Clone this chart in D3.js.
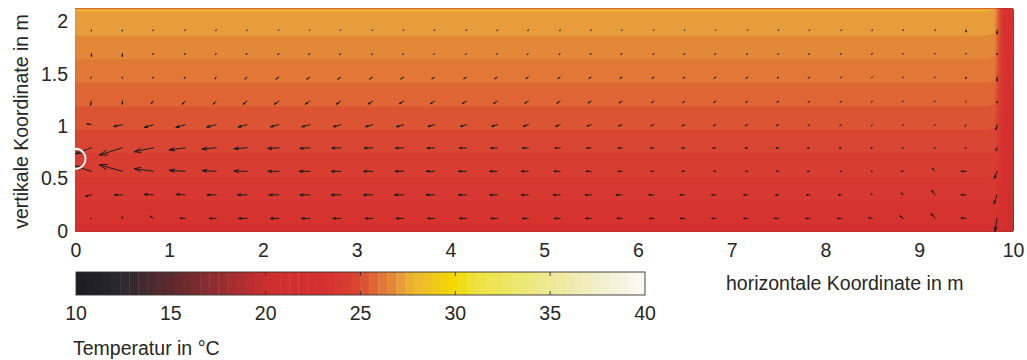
<!DOCTYPE html>
<html>
<head>
<meta charset="utf-8">
<script src="https://cdn.jsdelivr.net/npm/d3@7"></script>
<style>
  body { margin: 0; background: #fff; }
  text { font-family: 'Liberation Sans', Arial, Helvetica, sans-serif; fill: #262626; }
</style>
</head>
<body>
<svg id="chart" width="1027" height="360"></svg>
<script>
// ---- data ----
// temperature field (deg C): grid columns (m) and rows (m), rows bottom -> top
const gridX = [0, 9.7, 9.8, 9.9, 10];
const gridY = [0, 0.212, 0.424, 0.636, 0.848, 1.06, 1.272, 1.484, 1.696, 1.908, 2.12];
const tempRows = [
  [22.99, 22.99, 22.95, 22.60, 19.6],
  [23.43, 23.43, 23.40, 22.75, 20.0],
  [23.87, 23.87, 23.84, 22.90, 20.4],
  [24.31, 24.31, 24.28, 23.00, 20.8],
  [24.75, 24.75, 24.72, 23.10, 21.2],
  [25.19, 25.19, 25.16, 23.20, 21.6],
  [25.64, 25.64, 25.60, 23.30, 22.0],
  [26.08, 26.08, 26.04, 23.35, 22.3],
  [26.52, 26.52, 26.48, 23.40, 22.6],
  [26.96, 26.96, 26.92, 23.40, 22.8],
  [27.40, 27.40, 27.33, 23.30, 23.0]
];

// velocity field (cm/s): arrow grid, rows bottom -> top
const arrowX = [0.17, 0.5, 0.83, 1.17, 1.5, 1.83, 2.17, 2.5, 2.83, 3.17, 3.5, 3.83, 4.17, 4.5, 4.83,
                5.17, 5.5, 5.83, 6.17, 6.5, 6.83, 7.17, 7.5, 7.83, 8.17, 8.5, 8.83, 9.17, 9.5, 9.83];
const arrowY = [0.12, 0.345, 0.57, 0.795, 1.015, 1.24, 1.47, 1.695, 1.92];
const uRows = [
  [-0.5, -0.3, -3, -5, -6.5, -8.5, -8.5, -8.5, -8, -7.5, -7.5, -7, -7, -6.5, -6, -6, -5.5, -5, -4.5, -4.5, -4, -4, -4, -4, -4, -4, -3.5, -4, -5, -2],
  [-6, -8, -9, -9, -9, -9.5, -10, -10, -9.5, -9, -9, -8.5, -8, -7.5, -7, -7, -6, -6, -5, -5, -4, -4, -3, -3, -3, -1, -2, -3.5, -5, -3],
  [-16, -23, -19, -16, -14, -13, -11, -10.5, -9.5, -9, -8.5, -8, -8, -7.5, -7, -6, -5, -4, -3, -3, -2, -2, -2, -2, -1, -1, -2, -3, -5, -2.5],
  [-16, -23, -19, -16, -14, -13, -11, -10, -9, -8.5, -8, -7.5, -7, -6.5, -6, -5, -4.5, -4, -3.5, -3, -3, -2.5, -2.5, -2, -2, -1.5, -1, -1, -1, -1],
  [-4.5, -8.5, -9, -9.3, -9.3, -9, -8.5, -8, -7.5, -7, -7, -6.5, -6, -5.5, -5, -4.5, -4, -3.5, -3, -3, -2.5, -2.5, -2, -1.5, -1.5, -1, -0.5, -0.5, -1, -1],
  [-1, 0, -2, -3, -3, -4, -4.5, -4.5, -4.5, -4.5, -4.3, -4, -4, -3.7, -3.5, -3.2, -3, -2.8, -2.5, -2.2, -2, -1.8, -1.6, -1, -1, -0.8, -0.6, -0.5, -0.5, 0],
  [-0.5, 0, -0.5, -0.8, -1, -2, -3, -3, -3, -3, -2.8, -2.6, -2.5, -2.4, -2.3, -2.2, -2, -2, -1.8, -1.7, -1.6, -1.5, -1.3, -1, -0.8, -0.6, -0.5, -0.5, -0.3, 0],
  [0, 0, -0.3, -0.3, -0.5, -1, -1.2, -1.2, -1.2, -1.2, -1.2, -1.2, -1.2, -1.2, -1.2, -1, -1, -1, -1, -1, -1, -1, -1, -1, -1, -0.8, -0.6, -0.5, 0, 0],
  [0, 0, -0.4, -0.4, -0.4, -0.4, -0.4, -0.4, -0.4, -0.4, -0.4, -0.4, -0.4, -0.4, -0.4, -0.4, -0.4, -0.4, -0.4, -0.4, -0.4, -0.4, -0.4, -0.4, -0.4, -0.4, -0.4, -0.4, 0, 0]
];
const vRows = [
  [0, 1.5, 2.3, 0.3, 0, 0, 0, 0, 0, 0, 0, 0, 0, 0, 0, 0, 0, 0, 0, 0, 0, 0, 0, 0, 0, 1, 2.5, 5, 0.5, -13],
  [-1.5, 0, 0.5, 0.5, 0, 0, 0, 0, 0, 0, 0, 0, 0, 0, 0, 0, 0, 0, 0, 0, 0, 0, 0, 0, 0, 1, 2, 4.5, 0, -9],
  [5, 6.5, 2.7, 1, 0.7, 0.3, 0, 0, 0, 0, 0, 0, 0, 0, 0, 0, 0, 0, 0, 0, 0, 0, 0, 0, 0, 0, 0, 3, 0, -7],
  [-6, -7.3, -4, -2.3, -1.3, -1, -0.7, -0.7, -0.5, -0.5, -0.5, -0.5, -0.5, -0.5, -0.5, -0.5, -0.5, -0.5, -0.5, -0.5, -0.5, -0.5, -0.5, -0.5, -0.5, -0.5, -0.5, -0.5, -0.5, -3],
  [1, -1.7, -2.7, -2.7, -2.3, -2.3, -2, -2, -2, -2, -2, -1.8, -1.7, -1.5, -1.5, -1.5, -1.3, -1.2, -1, -1, -1, -0.8, -0.8, -1, -1, -1, -0.5, -0.5, -1.5, -5],
  [-4, -3, -2.5, -3, -3, -3, -3, -3, -3, -2.8, -2.5, -2.5, -2.3, -2.2, -2, -2, -1.8, -1.7, -1.5, -1.4, -1.3, -1.2, -1, -1, -1, -0.8, -0.6, -0.5, -0.5, -1.5],
  [-1, -1, -1, -1.5, -1.8, -2, -2, -2, -2, -2, -1.8, -1.8, -1.7, -1.6, -1.5, -1.5, -1.4, -1.3, -1.2, -1.1, -1, -1, -1, -1, -0.8, -0.6, -0.5, -0.5, -1.5, -4],
  [-3, -3, -1, -1, -1, -1.2, -1.2, -1.2, -1.2, -1.2, -1.2, -1.2, -1.2, -1.2, -1.2, -1, -1, -1, -1, -1, -1, -1, -1, -1, -1, -0.8, -0.6, -0.5, -0.5, -1],
  [-1, -1, -0.6, -0.6, -0.6, -0.6, -0.6, -0.6, -0.6, -0.6, -0.6, -0.6, -0.6, -0.6, -0.6, -0.6, -0.6, -0.6, -0.6, -0.6, -0.6, -0.6, -0.6, -0.6, -0.6, -0.6, -0.6, -0.6, -2, -4]
];

// exhaust opening on the left wall (m)
const outletX = 0;
const outletY = 0.69;

// colour map (deg C -> colour) as seen on the colour bar
const cmapTemps = [10, 11, 12, 13, 14, 15, 16, 17, 18, 19, 20, 22.9, 23.36, 23.83, 24.3, 24.77, 25.23, 25.7, 26.17, 26.64,
                   27.11, 27.58, 28.5, 29.3, 30, 31, 32.5, 35, 37.5, 40];
const cmapColors = ['#1d1d21', '#212125', '#28272b', '#362a2d', '#4a2a2d', '#5e2a2e', '#722b2e', '#882c2f', '#9e2d30', '#b52e30',
                    '#cb302f', '#d5302f', '#d6332f', '#d73831', '#d83d32', '#d94533', '#db5534', '#df6634', '#e17836', '#e38838',
                    '#e79d3c', '#ecb030', '#efc224', '#f1d010', '#f2da00', '#eee23c', '#ece65f', '#eee994', '#f2eecb', '#fafaf5'];
const cmapSteps = 64;

// tick labels
const xTicks = [0, 1, 2, 3, 4, 5, 6, 7, 8, 9, 10];
const yTicks = [0, 0.5, 1, 1.5, 2];
const cbTicks = [10, 15, 20, 25, 30, 35, 40];

// ---- drawing ----
const svg = d3.select('#chart');
const fontSize = 19.5;

const xScale = d3.scaleLinear().domain([0, 10]).range([75.5, 1013]);
const yScale = d3.scaleLinear().domain([0, 2.12]).range([231, 9]);

const cmap = d3.scaleLinear().domain(cmapTemps).range(cmapColors).interpolate(d3.interpolateRgb).clamp(true);
const tMin = 10, tMax = 40;
const step = (tMax - tMin) / cmapSteps;
const levels = d3.range(cmapSteps).map(k => tMin + k * step);
const levelColor = k => cmap(tMin + (k + 0.5) * step);

// filled contours of the temperature field
const values = tempRows.flat();
const ix = d3.scaleLinear().domain(gridX.map((d, i) => i + 0.5)).range(gridX).clamp(true);
const iy = d3.scaleLinear().domain(gridY.map((d, i) => i + 0.5)).range(gridY).clamp(true);
const proj = d3.geoTransform({
  point: function (x, y) { this.stream.point(xScale(ix(x)), yScale(iy(y))); }
});
const path = d3.geoPath(proj);

const contours = d3.contours()
  .size([gridX.length, gridY.length])
  .thresholds(levels)(values);

const fieldG = svg.append('g').classed('field', true);
fieldG.selectAll('path')
  .data(contours.filter(c => c.coordinates.length))
  .enter().append('path')
  .attr('d', path)
  .attr('fill', c => levelColor(levels.indexOf(c.value)))
  .attr('stroke', c => levelColor(levels.indexOf(c.value)))
  .attr('stroke-width', 0.3);

// quiver arrows
const arrows = [];
arrowY.forEach((y, j) => {
  arrowX.forEach((x, i) => {
    arrows.push({ x: x, y: y, u: uRows[j][i], v: vRows[j][i] });
  });
});
const speedPx = d3.scaleLinear().domain([0, 1]).range([0, 1]);
const alpha = 0.33, beta = 0.33;
function arrowPath(d) {
  const bx = xScale(d.x), by = yScale(d.y);
  const dx = speedPx(d.u), dy = -speedPx(d.v);
  const tx = bx + dx, ty = by + dy;
  const h1x = tx - alpha * (dx + beta * dy), h1y = ty - alpha * (dy - beta * dx);
  const h2x = tx - alpha * (dx - beta * dy), h2y = ty - alpha * (dy + beta * dx);
  return `M${bx},${by}L${tx},${ty}M${h1x},${h1y}L${tx},${ty}L${h2x},${h2y}`;
}
svg.append('g').classed('arrows', true)
  .selectAll('path')
  .data(arrows)
  .enter().append('path')
  .attr('d', arrowPath)
  .attr('fill', 'none')
  .attr('stroke', '#1c1c1c')
  .attr('stroke-width', 1)
  .attr('stroke-linecap', 'round')
  .attr('stroke-linejoin', 'round');

// outlet marker
svg.append('circle')
  .attr('cx', xScale(outletX))
  .attr('cy', yScale(outletY))
  .attr('r', 10)
  .attr('fill', 'none')
  .attr('stroke', '#ffffff')
  .attr('stroke-width', 1.8);

// axes (labels only, no lines)
const xAxis = d3.axisBottom(xScale).tickValues(xTicks).tickSize(0).tickPadding(12).tickFormat(d3.format('~g'));
const yAxis = d3.axisLeft(yScale).tickValues(yTicks).tickSize(0).tickPadding(7.5).tickFormat(d3.format('~g'));

const xAxisG = svg.append('g').attr('transform', `translate(0,${yScale(0)})`).call(xAxis);
const yAxisG = svg.append('g').attr('transform', `translate(${xScale(0)},0)`).call(yAxis);
[xAxisG, yAxisG].forEach(g => {
  g.select('.domain').remove();
  g.attr('font-family', null).attr('font-size', null);
  g.selectAll('text').style('font-size', fontSize + 'px').attr('fill', '#262626');
});

svg.append('text')
  .attr('transform', 'translate(28,121.5) rotate(-90)')
  .attr('text-anchor', 'middle')
  .style('font-size', fontSize + 'px')
  .text('vertikale Koordinate in m');

svg.append('text')
  .attr('x', 726)
  .attr('y', 290)
  .style('font-size', fontSize + 'px')
  .text('horizontale Koordinate in m');

// colour bar
const cbScale = d3.scaleLinear().domain([tMin, tMax]).range([76, 645]);
const cbTop = 272, cbH = 23;
const cbG = svg.append('g').classed('colorbar', true);
cbG.selectAll('rect.cell')
  .data(levels)
  .enter().append('rect')
  .classed('cell', true)
  .attr('x', d => cbScale(d))
  .attr('y', cbTop)
  .attr('width', d => cbScale(d + step) - cbScale(d) + 0.4)
  .attr('height', cbH)
  .attr('fill', (d, k) => levelColor(k));

cbG.append('rect')
  .attr('x', cbScale(tMin))
  .attr('y', cbTop)
  .attr('width', cbScale(tMax) - cbScale(tMin))
  .attr('height', cbH)
  .attr('fill', 'none')
  .attr('stroke', '#333')
  .attr('stroke-width', 0.9);

const innerTicks = cbTicks.slice(1, -1);
cbG.selectAll('line.tt')
  .data(innerTicks)
  .enter().append('line')
  .attr('x1', d => cbScale(d)).attr('x2', d => cbScale(d))
  .attr('y1', cbTop).attr('y2', cbTop + 4)
  .attr('stroke', '#333').attr('stroke-width', 0.9);
cbG.selectAll('line.tb')
  .data(innerTicks)
  .enter().append('line')
  .attr('x1', d => cbScale(d)).attr('x2', d => cbScale(d))
  .attr('y1', cbTop + cbH - 4).attr('y2', cbTop + cbH)
  .attr('stroke', '#333').attr('stroke-width', 0.9);

cbG.selectAll('text.cbl')
  .data(cbTicks)
  .enter().append('text')
  .attr('x', d => cbScale(d))
  .attr('y', 320)
  .attr('text-anchor', 'middle')
  .style('font-size', fontSize + 'px')
  .text(d => d);

svg.append('text')
  .attr('x', 73)
  .attr('y', 355)
  .style('font-size', fontSize + 'px')
  .text('Temperatur in \u00b0C');
</script>
</body>
</html>
